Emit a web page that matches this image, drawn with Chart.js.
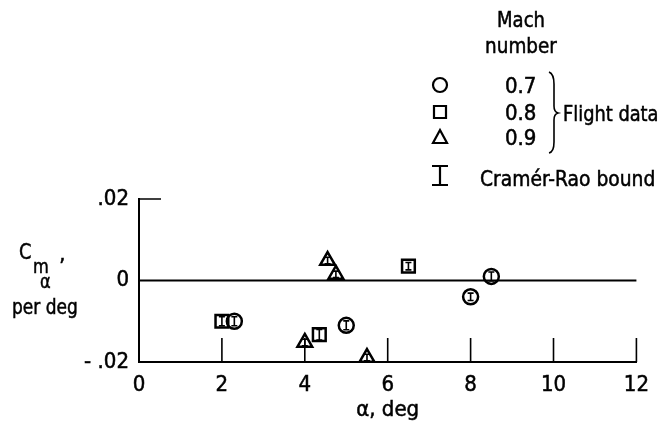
<!DOCTYPE html>
<html>
<head>
<meta charset="utf-8">
<script src="https://cdn.jsdelivr.net/npm/chart.js@4.4.1/dist/chart.umd.min.js"></script>
<style>
  html, body { margin: 0; padding: 0; background: #fff; }
  canvas { display: block; }
</style>
</head>
<body>
<canvas id="cm" width="661" height="423"></canvas>
<script>
// angle of attack (deg), Cm-alpha (per deg) and Cramer-Rao bound for each Mach number
const alpha07 = [2.3, 5.0, 8.0, 8.5];
const cma07 = [-0.010, -0.011, -0.004, 0.001];
const crb07 = [0.0011, 0.0011, 0.0009, 0.0011];

const alpha08 = [2.0, 4.35, 6.5];
const cma08 = [-0.010, -0.0133, 0.0035];
const crb08 = [0.0011, 0.0013, 0.0009];

const alpha09 = [4.0, 4.55, 4.75, 5.5];
const cma09 = [-0.0152, 0.0049, 0.0015, -0.0189];
const crb09 = [0.0008, 0.0008, 0.0008, 0.0008];

const xTicks = [0, 2, 4, 6, 8, 10, 12];
const yTicks = [-0.02, 0, 0.02];
const yTickText = ['- .02', '0', '.02'];

const FONT = '"DejaVu Sans Condensed", "Liberation Sans Narrow", sans-serif';
const INK = '#000';

function points(xs, ys, bs) {
  return xs.map((x, i) => ({ x: x, y: ys[i], b: bs[i] }));
}

// text squeezed horizontally and slightly heavier, like the typewriter lettering
function label(ctx, str, x, y, size, sx, align) {
  ctx.save();
  ctx.font = size + 'px ' + FONT;
  ctx.textAlign = align || 'left';
  ctx.translate(x, y);
  ctx.scale(sx, 1);
  ctx.fillText(str, 0, 0);
  ctx.lineWidth = 0.5;
  ctx.strokeText(str, 0, 0);
  ctx.restore();
}

function marker(ctx, style, x, y) {
  ctx.beginPath();
  if (style === 'circle') {
    ctx.arc(x, y, 7, 0, Math.PI * 2);
  } else if (style === 'rect') {
    ctx.rect(x - 6, y - 6, 12, 12);
  } else {
    ctx.moveTo(x, y - 8);
    ctx.lineTo(x + 7, y + 5);
    ctx.lineTo(x - 7, y + 5);
    ctx.closePath();
  }
  ctx.stroke();
}

const decor = {
  id: 'decor',
  beforeDatasetsDraw(chart) {
    const { ctx, chartArea: a, scales: { x, y } } = chart;
    ctx.save();
    ctx.strokeStyle = INK;
    ctx.lineWidth = 2;
    ctx.beginPath();
    const y0 = y.getPixelForValue(0);
    ctx.moveTo(a.left, y0);
    ctx.lineTo(a.right, y0);
    ctx.stroke();
    // ticks point inward from the alpha axis
    ctx.lineWidth = 1.6;
    ctx.beginPath();
    xTicks.slice(1).forEach(v => {
      const px = x.getPixelForValue(v);
      ctx.moveTo(px, a.bottom);
      ctx.lineTo(px, a.bottom - 24);
    });
    const yt = y.getPixelForValue(0.02);
    ctx.moveTo(a.left, yt);
    ctx.lineTo(a.left + 22, yt);
    ctx.stroke();
    ctx.restore();
  },
  afterDatasetsDraw(chart) {
    // Cramer-Rao bounds as small I-bars through each symbol
    const { ctx, scales: { x, y } } = chart;
    ctx.save();
    ctx.strokeStyle = INK;
    ctx.lineWidth = 1.6;
    chart.data.datasets.forEach(ds => {
      ds.data.forEach(p => {
        const px = x.getPixelForValue(p.x);
        const hi = y.getPixelForValue(p.y + p.b);
        const lo = y.getPixelForValue(p.y - p.b);
        ctx.beginPath();
        ctx.moveTo(px, hi); ctx.lineTo(px, lo);
        ctx.moveTo(px - 3, hi); ctx.lineTo(px + 3, hi);
        ctx.moveTo(px - 3, lo); ctx.lineTo(px + 3, lo);
        ctx.stroke();
      });
    });
    ctx.restore();
  },
  afterDraw(chart) {
    const { ctx, chartArea: a } = chart;
    ctx.save();
    ctx.fillStyle = INK;
    ctx.strokeStyle = INK;
    ctx.textBaseline = 'alphabetic';

    // axis titles
    label(ctx, 'α, deg', (a.left + a.right) / 2, 416, 22, 1, 'center');
    label(ctx, 'C', 19, 259, 22, 0.9);
    label(ctx, 'm', 33, 273, 20, 0.9);
    label(ctx, 'α', 40, 288, 20, 0.9);
    label(ctx, '’', 59, 274, 22, 1);
    label(ctx, 'per deg', 12, 314, 22, 0.86);

    // key
    label(ctx, 'Mach', 521, 27, 22, 0.91, 'center');
    label(ctx, 'number', 521, 53, 22, 0.93, 'center');

    ctx.lineWidth = 2.2;
    marker(ctx, 'circle', 440, 85);
    marker(ctx, 'rect', 440, 112);
    marker(ctx, 'triangle', 440, 138);

    label(ctx, '0.7', 505, 93, 22, 1);
    label(ctx, '0.8', 505, 120, 22, 1);
    label(ctx, '0.9', 505, 145, 22, 1);

    ctx.lineWidth = 1.6;
    ctx.beginPath();
    ctx.moveTo(549, 72);
    ctx.quadraticCurveTo(554, 74, 554, 84);
    ctx.lineTo(554, 106);
    ctx.quadraticCurveTo(554, 112, 558, 113);
    ctx.quadraticCurveTo(554, 114, 554, 120);
    ctx.lineTo(554, 142);
    ctx.quadraticCurveTo(554, 152, 549, 153);
    ctx.stroke();
    label(ctx, 'Flight data', 563, 121, 22, 0.9);

    ctx.lineWidth = 2.2;
    ctx.beginPath();
    ctx.moveTo(440, 166); ctx.lineTo(440, 185);
    ctx.moveTo(432, 166); ctx.lineTo(448, 166);
    ctx.moveTo(432, 185); ctx.lineTo(448, 185);
    ctx.stroke();
    label(ctx, 'Cramér-Rao bound', 480, 186, 22, 0.945);
    ctx.restore();
  }
};

function series(xs, ys, bs, style, r) {
  return {
    data: points(xs, ys, bs),
    pointStyle: style,
    pointRadius: r,
    pointBorderWidth: 2.5,
    pointBorderColor: INK,
    pointBackgroundColor: 'rgba(255,255,255,0)',
    showLine: false
  };
}

const tickFont = { family: FONT, size: 22, lineHeight: 1 };

new Chart(document.getElementById('cm'), {
  type: 'scatter',
  data: {
    datasets: [
      series(alpha07, cma07, crb07, 'circle', 7.5),
      series(alpha08, cma08, crb08, 'rect', 9),
      series(alpha09, cma09, crb09, 'triangle', 8.5)
    ]
  },
  options: {
    responsive: false,
    animation: false,
    devicePixelRatio: 1,
    layout: { padding: { left: 0, right: 19, top: 199, bottom: 0 } },
    plugins: { legend: { display: false }, tooltip: { enabled: false } },
    scales: {
      x: {
        type: 'linear', min: 0, max: 12,
        afterBuildTicks: s => { s.ticks = xTicks.map(v => ({ value: v })); },
        afterFit: s => { s.height = 61; },
        grid: { display: false, drawTicks: false },
        border: { display: true, color: INK, width: 2 },
        ticks: { color: INK, font: tickFont, padding: 12, maxRotation: 0, autoSkip: false,
                 textStrokeColor: INK, textStrokeWidth: 0.5 }
      },
      y: {
        type: 'linear', min: -0.02, max: 0.02,
        afterBuildTicks: s => { s.ticks = yTicks.map(v => ({ value: v })); },
        afterFit: s => { s.width = 139; },
        grid: { display: false, drawTicks: false },
        border: { display: true, color: INK, width: 2 },
        ticks: { color: INK, font: tickFont, padding: 10, callback: (v, i) => yTickText[i],
                 textStrokeColor: INK, textStrokeWidth: 0.5 }
      }
    }
  },
  plugins: [decor]
});
</script>
</body>
</html>
